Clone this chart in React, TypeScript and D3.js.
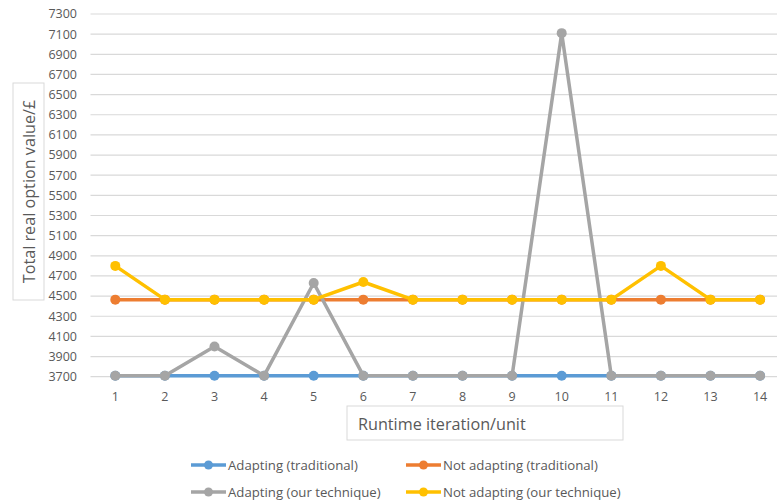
import React from "react";
import * as d3 from "d3";

const iterations = [1, 2, 3, 4, 5, 6, 7, 8, 9, 10, 11, 12, 13, 14];
const adaptingTraditional = [3710, 3710, 3710, 3710, 3710, 3710, 3710, 3710, 3710, 3710, 3710, 3710, 3710, 3710];
const notAdaptingTraditional = [4465, 4465, 4465, 4465, 4465, 4465, 4465, 4465, 4465, 4465, 4465, 4465, 4465, 4465];
const adaptingOurs = [3710, 3710, 4000, 3710, 4630, 3710, 3710, 3710, 3710, 7110, 3710, 3710, 3710, 3710];
const notAdaptingOurs = [4800, 4465, 4465, 4465, 4465, 4640, 4465, 4465, 4465, 4465, 4465, 4800, 4465, 4465];
const yTicks = d3.range(3700, 7301, 200);
const seriesNames = ["Adapting (traditional)", "Not adapting (traditional)", "Adapting (our technique)", "Not adapting (our technique)"];
const seriesValues = [adaptingTraditional, notAdaptingTraditional, adaptingOurs, notAdaptingOurs];
const colors = ["#5B9BD5", "#ED7D31", "#A5A5A5", "#FFC000"];

const FONT = "'Open Sans', 'Liberation Sans', sans-serif";

export default function App() {
  const W = 777, H = 504;
  const plotLeft = 90.5, band = 49.6;
  const x = d3.scaleBand<number>().domain(iterations).range([plotLeft, plotLeft + band * iterations.length]);
  const xc = (d: number) => (x(d) as number) + x.bandwidth() / 2;
  const y = d3.scaleLinear().domain([3700, 7300]).range([376.7, 14]);
  const line = d3.line<number>().x((_, i) => xc(iterations[i])).y((v) => y(v));

  const legendItems = [
    { col: 0, row: 0 }, { col: 1, row: 0 }, { col: 0, row: 1 }, { col: 1, row: 1 },
  ];
  const legendX = [191, 406];
  const legendY = [465, 492];

  return (
    <svg width={W} height={H} style={{ position: "absolute", left: 0, top: 0, background: "#fff" }} fontFamily={FONT}>
      <rect width={W} height={H} fill="#fff" />
      {yTicks.map((t) => (
        <g key={t}>
          <line x1={plotLeft} x2={W} y1={y(t)} y2={y(t)} stroke="#D9D9D9" strokeWidth={1.2} />
          <text x={77} y={y(t)} dy="0.35em" textAnchor="end" fontSize={12.5} fill="#595959">{t}</text>
        </g>
      ))}
      {iterations.map((d) => (
        <text key={d} x={xc(d)} y={397} dy="0.35em" textAnchor="middle" fontSize={12.5} fill="#595959">{d}</text>
      ))}
      {seriesValues.map((vals, si) => (
        <g key={si}>
          <path d={line(vals) as string} fill="none" stroke={colors[si]} strokeWidth={3.5} strokeLinejoin="round" />
          {vals.map((v, i) => (
            <circle key={i} cx={xc(iterations[i])} cy={y(v)} r={5} fill={colors[si]} />
          ))}
        </g>
      ))}
      {/* Y axis title */}
      <rect x={13} y={83} width={31} height={217} fill="#fff" stroke="#D9D9D9" strokeWidth={1} />
      <text transform={`translate(34.5,191.5) rotate(-90)`} textAnchor="middle" fontSize={16.2} fill="#595959">Total real option value/£</text>
      {/* X axis title */}
      <rect x={347} y={406} width={276} height={34} fill="#fff" stroke="#D9D9D9" strokeWidth={1} />
      <text x={358} y={424} dy="0.35em" fontSize={16.2} fill="#595959">Runtime iteration/unit</text>
      {/* Legend */}
      {legendItems.map((it, i) => {
        const lx = legendX[it.col], ly = legendY[it.row];
        return (
          <g key={i}>
            <line x1={lx} x2={lx + 35} y1={ly} y2={ly} stroke={colors[i]} strokeWidth={3.5} />
            <circle cx={lx + 17.5} cy={ly} r={4.5} fill={colors[i]} />
            <text x={lx + 37} y={ly} dy="0.35em" fontSize={13.2} fill="#595959">{seriesNames[i]}</text>
          </g>
        );
      })}
    </svg>
  );
}
